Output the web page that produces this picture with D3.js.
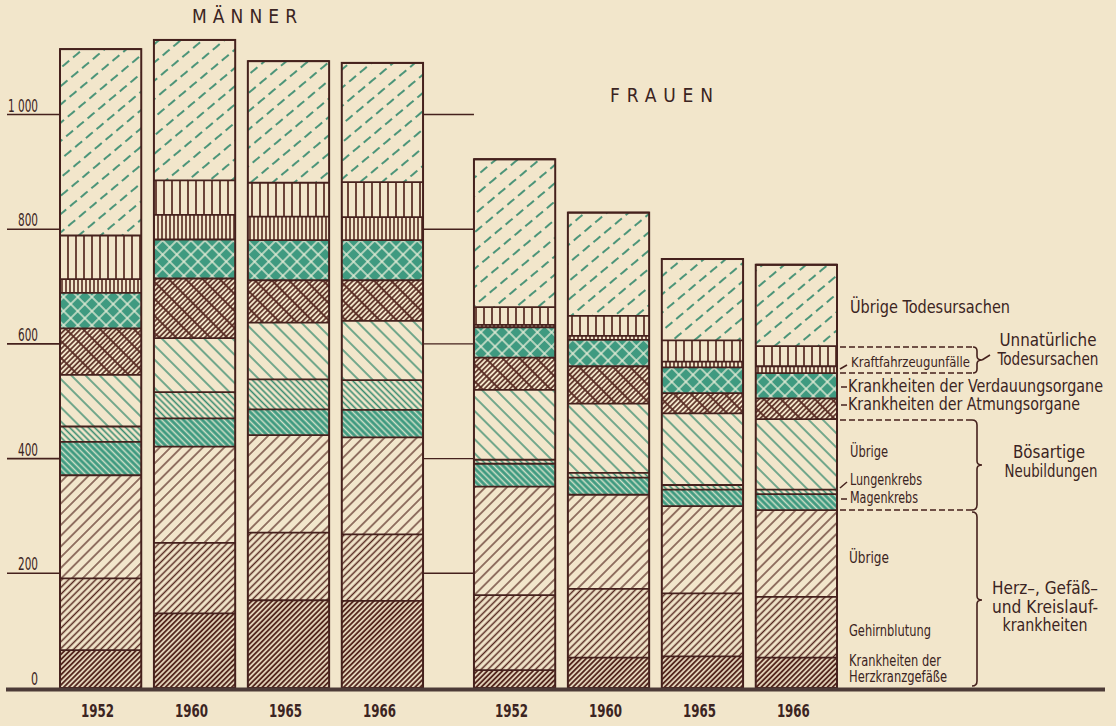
<!DOCTYPE html>
<html>
<head>
<meta charset="utf-8">
<script src="https://cdn.jsdelivr.net/npm/d3@7"></script>
<style>
  html, body { margin: 0; padding: 0; background: #f2e6cb; }
  svg { display: block; }
  text { font-family: "Liberation Sans Narrow", "DejaVu Sans Condensed", "Roboto Condensed", "DejaVu Sans", sans-serif; fill: #3b2422; }
</style>
</head>
<body>
<svg id="chart" width="1116" height="726"></svg>
<script>
// ---------------- DATA ----------------
const groups = ["MÄNNER", "FRAUEN"];
const years = ["1952", "1960", "1965", "1966"];
const yTicks = [0, 200, 400, 600, 800, 1000];
const yTickLabels = ["0", "200", "400", "600", "800", "1 000"];

// causes, bottom to top
const causes = ["herzkranz", "gehirn", "herzUebrige", "magen", "lungen", "krebsUebrige",
                "atmung", "verdauung", "kfz", "unnatUebrige", "sonstige"];

// values per bar: Männer 1952, 1960, 1965, 1966, Frauen 1952, 1960, 1965, 1966
const herzkranz    = [66, 130, 153, 152, 31, 53, 55, 53];
const gehirn       = [125, 123, 118, 116, 131, 120, 110, 106];
const herzUebrige  = [180, 168, 170, 169, 189, 164, 152, 151];
const magen        = [58, 49, 45, 48, 40, 30, 29, 28];
const lungen       = [27, 46, 52, 52, 7, 8, 8, 8];
const krebsUebrige = [90, 94, 99, 103, 122, 121, 125, 123];
const atmung       = [81, 104, 74, 71, 56, 65, 35, 36];
const verdauung    = [62, 68, 70, 70, 53, 46, 45, 44];
const kfz          = [24, 43, 41, 40, 4, 7, 10, 12];
const unnatUebrige = [76, 60, 59, 61, 31, 35, 37, 35];
const sonstige     = [325, 245, 212, 208, 258, 180, 142, 142];

const seriesValues = { herzkranz, gehirn, herzUebrige, magen, lungen, krebsUebrige,
                       atmung, verdauung, kfz, unnatUebrige, sonstige };

// ---------------- STYLE ----------------
const cream = "#f2e6cb";
const brown = "#55281f";
const outline = "#45211d";
const green = "#3f9a80";
const greenLine = "#3a8c70";

const fills = {
  herzkranz:    [{ angle: 45, sp: 3.6, color: brown, w: 2.0 }],
  gehirn:       [{ angle: 45, sp: 4.8, color: brown, w: 1.5 }],
  herzUebrige:  [{ angle: 45, sp: 7.6, color: brown, w: 1.2 }],
  magen:        [{ bg: green, angle: -45, sp: 4.4, color: "#cfe0c8", w: 1.5 }],
  lungen:       [{ angle: -45, sp: 4.4, color: greenLine, w: 1.6 }],
  krebsUebrige: [{ angle: -45, sp: 10, color: greenLine, w: 1.4 }],
  atmung:       [{ angle: 45, sp: 3.6, color: brown, w: 1.6 }, { angle: -45, sp: 12, color: brown, w: 1.7, nobg: true }],
  verdauung:    [{ bg: green, grid: true, angle: 45, sp: 10, color: "#e4ecd6", w: 1.4 }],
  kfz:          [{ angle: 0, sp: 4, color: brown, w: 1.6 }],
  unnatUebrige: [{ angle: 0, sp: 8, color: brown, w: 1.7 }],
  sonstige:     [{ angle: 50, sp: 14, color: greenLine, w: 1.8, dash: [9, 5] }]
};

// ---------------- CHART ----------------
const svg = d3.select("#chart");
const defs = svg.append("defs");

Object.entries(fills).forEach(([key, layers]) => {
  layers.forEach((L, li) => {
    const h = L.dash ? (L.dash[0] + L.dash[1]) : L.sp;
    const p = defs.append("pattern")
      .attr("id", `p-${key}-${li}`)
      .attr("patternUnits", "userSpaceOnUse")
      .attr("width", L.sp).attr("height", L.grid ? L.sp : h)
      .attr("patternTransform", `rotate(${L.angle})`);
    if (!L.nobg) p.append("rect").attr("width", L.sp).attr("height", L.grid ? L.sp : h).attr("fill", L.bg || cream);
    p.append("line")
      .attr("x1", L.sp / 2).attr("x2", L.sp / 2)
      .attr("y1", 0).attr("y2", L.grid ? L.sp : h)
      .attr("stroke", L.color).attr("stroke-width", L.w)
      .attr("stroke-dasharray", L.dash ? L.dash.join(",") : null);
    if (L.grid) {
      p.append("line")
        .attr("x1", 0).attr("x2", L.sp)
        .attr("y1", L.sp / 2).attr("y2", L.sp / 2)
        .attr("stroke", L.color).attr("stroke-width", L.w);
    }
  });
});

const y = d3.scaleLinear().domain([0, 1000]).range([688, 114.5]);
const xGroup = d3.scaleBand().domain(groups).range([60, 837]).paddingInner(0.123).paddingOuter(0);
const xYear = d3.scaleBand().domain(years).range([0, xGroup.bandwidth()]).paddingInner(0.135).paddingOuter(0);

// text helper with condensed width
function txt(parent, s, x, yy, size, width, anchor, weight) {
  const t = parent.append("text").attr("x", x).attr("y", yy).attr("font-size", size)
    .attr("text-anchor", anchor || "start").text(s);
  if (weight) t.attr("font-weight", weight);
  if (width) t.attr("textLength", width).attr("lengthAdjust", "spacingAndGlyphs");
  return t;
}

// bars data
const bars = [];
groups.forEach((g, gi) => {
  years.forEach((yr, yi) => {
    const idx = gi * 4 + yi;
    let cum = 0;
    const segs = causes.map(c => {
      const v = seriesValues[c][idx];
      const s = { cause: c, y0: cum, y1: cum + v };
      cum += v;
      return s;
    });
    bars.push({ group: g, year: yr, x: xGroup(g) + xYear(yr), segs, total: cum });
  });
});

// axis tick lines on left and between groups
const tickG = svg.append("g");
const tickW = { "0": 7, "200": 20, "400": 20, "600": 20, "800": 20, "1 000": 30 };
yTicks.forEach((t, i) => {
  if (t > 0) {
    tickG.append("line").attr("x1", 7).attr("x2", xGroup("MÄNNER"))
      .attr("y1", y(t)).attr("y2", y(t)).attr("stroke", outline).attr("stroke-width", 1.6);
    tickG.append("line").attr("x1", xGroup("MÄNNER") + xGroup.bandwidth()).attr("x2", xGroup("FRAUEN"))
      .attr("y1", y(t)).attr("y2", y(t)).attr("stroke", outline).attr("stroke-width", 1.4);
  }
  txt(tickG, yTickLabels[i], 38, y(t) - 3, 17.5, tickW[yTickLabels[i]], "end");
});

// bars
const barG = svg.append("g");
const bw = xYear.bandwidth();
bars.forEach(b => {
  const g = barG.append("g");
  b.segs.forEach(s => {
    fills[s.cause].forEach((L, li) => {
      g.append("rect").attr("x", b.x).attr("width", bw)
        .attr("y", y(s.y1)).attr("height", y(s.y0) - y(s.y1))
        .attr("fill", `url(#p-${s.cause}-${li})`);
    });
  });
  b.segs.forEach(s => {
    g.append("line").attr("x1", b.x).attr("x2", b.x + bw)
      .attr("y1", y(s.y1)).attr("y2", y(s.y1))
      .attr("stroke", outline).attr("stroke-width", 1.8);
  });
  g.append("rect").attr("x", b.x).attr("width", bw)
    .attr("y", y(b.total)).attr("height", y(0) - y(b.total))
    .attr("fill", "none").attr("stroke", outline).attr("stroke-width", 2);
  txt(svg, b.year, b.x + bw / 2 - 3, 717, 18, 33, "middle", "bold");
});

// baseline
svg.append("line").attr("x1", 6).attr("x2", 1105).attr("y1", y(0) + 1.5).attr("y2", y(0) + 1.5)
  .attr("stroke", "#4c3a37").attr("stroke-width", 4);

// group titles
svg.append("text").attr("x", 192).attr("y", 23).attr("font-size", 19)
  .attr("textLength", 105).attr("lengthAdjust", "spacing").text(groups[0]);
svg.append("text").attr("x", 610).attr("y", 102).attr("font-size", 19)
  .attr("textLength", 103).attr("lengthAdjust", "spacing").text(groups[1]);

// ---------------- ANNOTATIONS ----------------
const ann = svg.append("g");
function label(s, x, yy, size, width, anchor) { return txt(ann, s, x, yy, size, width, anchor); }
function dashed(x1, x2, yy) {
  ann.append("line").attr("x1", x1).attr("x2", x2).attr("y1", yy).attr("y2", yy)
    .attr("stroke", outline).attr("stroke-width", 1.6).attr("stroke-dasharray", "6,3");
}
function seg(x1, y1, x2, y2) {
  ann.append("line").attr("x1", x1).attr("x2", x2).attr("y1", y1).attr("y2", y2)
    .attr("stroke", outline).attr("stroke-width", 1.5);
}
function brace(x, top, bot, mid, r) {
  r = r || 5;
  const tip = x + 5;
  const p = `M${x - r},${top} Q${x},${top} ${x},${top + r} L${x},${mid - 4} Q${x},${mid} ${tip},${mid} ` +
            `Q${x},${mid} ${x},${mid + 4} L${x},${bot - r} Q${x},${bot} ${x - r},${bot}`;
  ann.append("path").attr("d", p).attr("fill", "none").attr("stroke", outline).attr("stroke-width", 1.6);
}

label("Übrige Todesursachen", 850, 313, 18, 160);

// Unnatürliche Todesursachen
dashed(840, 972, 347);
dashed(840, 972, 373);
brace(977, 347, 373, 360, 4);
seg(982, 360, 990, 355);
seg(840, 369, 847, 365);
label("Kraftfahrzeugunfälle", 851, 367, 14, 119);
label("Unnatürliche", 1048, 346, 17.5, 97, "middle");
label("Todesursachen", 1048, 365, 17.5, 101, "middle");

seg(841, 387, 847, 387);
label("Krankheiten der Verdauungsorgane", 848, 392, 17.5, 255);
seg(841, 405, 847, 405);
label("Krankheiten der Atmungsorgane", 848, 410, 17.5, 232);

// Bösartige Neubildungen
dashed(840, 972, 420);
dashed(840, 972, 510);
brace(977, 420, 510, 465);
label("Übrige", 850, 457, 15, 38);
seg(840, 488, 847, 482);
label("Lungenkrebs", 850, 485, 15, 72);
seg(841, 499, 847, 499);
label("Magenkrebs", 850, 503, 15, 68);
label("Bösartige", 1049, 458, 18.5, 72, "middle");
label("Neubildungen", 1051, 477, 18.5, 93, "middle");

// Herz-, Gefäß- und Kreislaufkrankheiten
brace(977, 512, 686, 600);
label("Übrige", 849, 563, 15, 40);
label("Gehirnblutung", 849, 636, 15, 82);
label("Krankheiten der", 849, 666, 15, 92);
label("Herzkranzgefäße", 849, 682, 15, 98);
label("Herz–, Gefäß–", 1045, 594, 18, 106, "middle");
label("und Kreislauf-", 1045, 613, 18, 106, "middle");
label("krankheiten", 1045, 631, 18, 85, "middle");
</script>
</body>
</html>
